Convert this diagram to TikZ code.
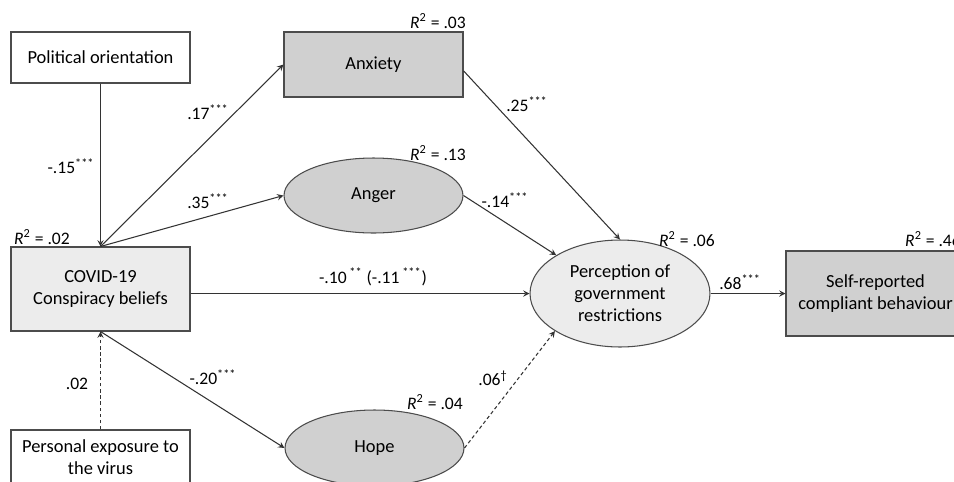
\documentclass[tikz,border=0pt]{standalone}
\usepackage{fontspec}
\setmainfont{Carlito}
\usetikzlibrary{shapes.geometric}
\definecolor{dgray}{RGB}{208,208,208}
\definecolor{lgray}{RGB}{236,236,236}

\begin{document}
\begin{tikzpicture}[x=0.02cm,y=-0.02cm,font=\fontsize{10.5}{12.5}\selectfont,
 rbox/.style={draw=black!70,line width=0.6pt,rectangle,minimum width=3.58cm,align=center,inner sep=0pt},
 oval/.style={ellipse,draw=black!70,line width=0.6pt,minimum width=3.58cm,minimum height=1.5cm,inner sep=0pt,align=center},
 arr/.style={->,>=stealth,line width=0.6pt,draw=black!80},
 dashline/.style={dash pattern=on 2pt off 1.5pt},
 coef/.style={font=\fontsize{10}{12}\selectfont}]
 \useasboundingbox (0,0) rectangle (954,481); %画像の大きさ
 \node[rbox,fill=white,minimum height=1.02cm] (pol) at (100.5,57.5) {Political orientation}; %政治的志向
 \node[rbox,fill=lgray,minimum height=1.68cm] (cov) at (100.5,289) {COVID-19\\Conspiracy beliefs}; %陰謀論
 \node[rbox,fill=white,minimum height=1.08cm] (exp) at (100.5,457) {Personal exposure to\\the virus}; %感染経験
 \node[rbox,fill=dgray,minimum height=1.3cm] (anx) at (373.5,64.5) {Anxiety}; %不安
 \node[oval,fill=dgray] (ang) at (373.5,195.5) {Anger}; %怒り
 \node[oval,fill=dgray,minimum height=1.52cm] (hop) at (374.5,448) {Hope}; %希望
 \node[oval,fill=lgray,minimum width=3.6cm,minimum height=2.14cm] (per) at (620,293.5) {Perception of\\government\\restrictions}; %規制の認知
 \node[rbox,fill=dgray,minimum height=1.7cm] (beh) at (875.5,293.5) {Self-reported\\compliant behaviour}; %遵守行動
 \draw[arr] (pol.south)--(cov.north);
 \draw[arr] (cov.north)--(anx.west);
 \draw[arr] (cov.north)--(ang.west);
 \draw[arr] (cov.east |- per.west)--(per.west);
 \draw[arr] (cov.south)--(hop.west);
 \draw[arr,dashline] (exp.north)--(cov.south); %有意でない
 \draw[arr] (anx.-4)--(per.north);
 \draw[arr] (ang.east)--(per.149);
 \draw[arr,dashline] (hop.east)--(per.210); %有意でない
 \draw[arr] (per.east)--(beh.west);
 \node[coef] (c1) at (71,166) {-.15\textsuperscript{***}};
 \node[coef] (c2) at (208,112) {.17\textsuperscript{***}};
 \node[coef] (c3) at (208,201) {.35\textsuperscript{***}};
 \node[coef] (c4) at (77,384) {.02};
 \node[coef] (c5) at (213,377) {-.20\textsuperscript{***}};
 \node[coef] (c6) at (527,104) {.25\textsuperscript{***}};
 \node[coef] (c7) at (505,200) {-.14\textsuperscript{***}};
 \node[coef] (c8) at (373,277) {-.10\textsuperscript{ **} (-.11\textsuperscript{ ***})};
 \node[coef] (c9) at (493,378) {.06\textsuperscript{\textdagger}};
 \node[coef] (c10) at (740,282) {.68\textsuperscript{***}};
 \node[coef] (r1) at (42,237) {\textit{R}\textsuperscript{2} = .02}; %決定係数
 \node[coef] (r2) at (438,21) {\textit{R}\textsuperscript{2} = .03};
 \node[coef] (r3) at (438,153) {\textit{R}\textsuperscript{2} = .13};
 \node[coef] (r4) at (435,402) {\textit{R}\textsuperscript{2} = .04};
 \node[coef] (r5) at (687,239) {\textit{R}\textsuperscript{2} = .06};
 \node[coef] (r6) at (933,239) {\textit{R}\textsuperscript{2} = .46};
\end{tikzpicture}
\end{document}
